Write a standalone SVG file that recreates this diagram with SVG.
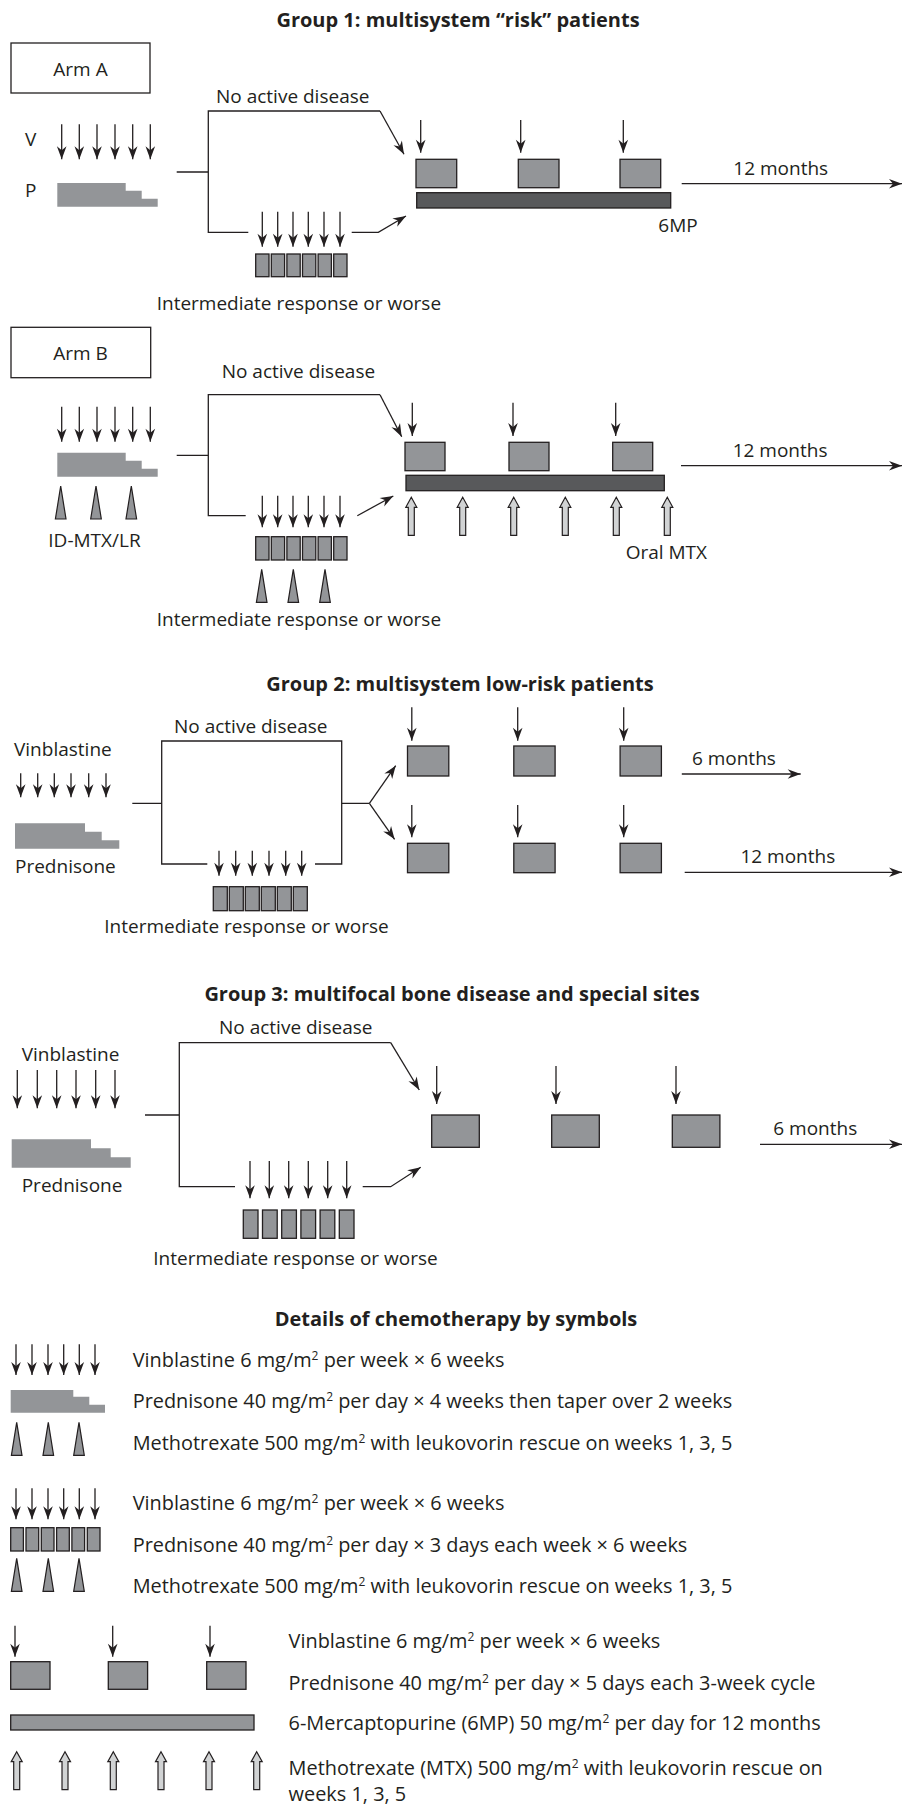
<svg xmlns="http://www.w3.org/2000/svg" width="903" height="1808" viewBox="0 0 903 1808">
<style>
.t{font-family:"Open Sans","Liberation Sans",sans-serif;font-size:19px;fill:#231f20}
.lg{font-size:19.9px}
.b{font-weight:bold;font-size:20px}
.m{text-anchor:middle}
.ln{stroke:#231f20;stroke-width:1.3;fill:none}
.ar{stroke:#231f20;stroke-width:1.3;fill:none;marker-end:url(#ah)}
.bx{fill:#939598;stroke:#231f20;stroke-width:1.3}
.dk{fill:#58595b;stroke:#231f20;stroke-width:1.3}
.st{fill:#939598}
.tri{fill:#939598;stroke:#231f20;stroke-width:1.2}
.ho{fill:#d1d3d4;stroke:#231f20;stroke-width:1.2}
.arm{fill:#fff;stroke:#231f20;stroke-width:1.3}
</style>
<defs>
<marker id="ah" viewBox="-14 -6 15 12" refX="0" refY="0" markerWidth="15" markerHeight="12" markerUnits="userSpaceOnUse" orient="auto"><path d="M0,0 L-13,-4.8 L-9,0 L-13,4.8 Z" fill="#231f20"/></marker>
<path id="ha" d="M0,0 L5.5,10 L3,10 L3,38 L-3,38 L-3,10 L-5.5,10 Z"/>
<path id="tr" d="M0,0 L5.3,33 L-5.3,33 Z"/>
</defs>
<rect width="903" height="1808" fill="#fff"/>

<!-- Group 1 Arm A -->
<g id="title1"><text class="t b m" x="458" y="27">Group 1: multisystem “risk” patients</text></g>
<g id="armA-label"><rect class="arm" x="11" y="43" width="139" height="50"/><text class="t m" x="80.5" y="76">Arm A</text></g>
<g id="armA-induction">
<text class="t" x="25" y="146">V</text>
<path class="ar" d="M61.7,124.3V159.3"/><path class="ar" d="M79.3,124.3V159.3"/><path class="ar" d="M97,124.3V159.3"/><path class="ar" d="M115,124.3V159.3"/><path class="ar" d="M132.7,124.3V159.3"/><path class="ar" d="M150.3,124.3V159.3"/>
<text class="t" x="25" y="197">P</text>
<path class="st" d="M57.3,183H125.7V190.7H141.7V198.7H157.7V206.7H57.3Z"/>
</g>
<g id="armA-nad"><text class="t" x="216" y="102.7">No active disease</text></g>
<g id="armA-ir">
<path class="ar" d="M262.3,211.7V246.7"/><path class="ar" d="M277.7,211.7V246.7"/><path class="ar" d="M293,211.7V246.7"/><path class="ar" d="M308.3,211.7V246.7"/><path class="ar" d="M324,211.7V246.7"/><path class="ar" d="M340,211.7V246.7"/>
<rect class="bx" x="255.7" y="254" width="13.3" height="22.7"/><rect class="bx" x="271.3" y="254" width="13.3" height="22.7"/><rect class="bx" x="286.9" y="254" width="13.3" height="22.7"/><rect class="bx" x="302.5" y="254" width="13.3" height="22.7"/><rect class="bx" x="318.1" y="254" width="13.3" height="22.7"/><rect class="bx" x="333.7" y="254" width="13.3" height="22.7"/>
<text class="t" x="156.7" y="310">Intermediate response or worse</text>
</g>
<g id="armA-continuation">
<path class="ar" d="M420.7,120V152.7"/><path class="ar" d="M520.7,120V152.7"/><path class="ar" d="M623.3,120V152.7"/>
<rect class="bx" x="416" y="159.3" width="40.7" height="28.4"/><rect class="bx" x="518.3" y="159.3" width="40.7" height="28.4"/><rect class="bx" x="620" y="159.3" width="40.7" height="28.4"/>
<rect class="dk" x="416.7" y="192.7" width="254" height="15.3"/>
<text class="t" x="658.3" y="231.7">6MP</text>
<text class="t" x="733.3" y="175">12 months</text>
</g>

<!-- Arm B -->
<g id="armB-label"><rect class="arm" x="11" y="327.3" width="139.7" height="50.4"/><text class="t m" x="80.5" y="360">Arm B</text></g>
<g id="armB-induction">
<path class="ar" d="M61.7,406.7V441.7"/><path class="ar" d="M79.3,406.7V441.7"/><path class="ar" d="M97,406.7V441.7"/><path class="ar" d="M115,406.7V441.7"/><path class="ar" d="M132.7,406.7V441.7"/><path class="ar" d="M150.3,406.7V441.7"/>
<path class="st" d="M57.3,452.7H125.7V460.7H141.7V468.7H157.7V476.7H57.3Z"/>
<use href="#tr" class="tri" x="60.7" y="486"/><use href="#tr" class="tri" x="96" y="486"/><use href="#tr" class="tri" x="131.3" y="486"/>
<text class="t" x="48.3" y="547.3">ID-MTX/LR</text>
</g>
<g id="armB-nad"><text class="t" x="221.7" y="378.3">No active disease</text></g>
<g id="armB-ir">
<path class="ar" d="M262.3,495.7V527.3"/><path class="ar" d="M277.7,495.7V527.3"/><path class="ar" d="M293,495.7V527.3"/><path class="ar" d="M308.3,495.7V527.3"/><path class="ar" d="M324,495.7V527.3"/><path class="ar" d="M340,495.7V527.3"/>
<rect class="bx" x="255.7" y="536.7" width="13.3" height="23.3"/><rect class="bx" x="271.3" y="536.7" width="13.3" height="23.3"/><rect class="bx" x="286.9" y="536.7" width="13.3" height="23.3"/><rect class="bx" x="302.5" y="536.7" width="13.3" height="23.3"/><rect class="bx" x="318.1" y="536.7" width="13.3" height="23.3"/><rect class="bx" x="333.7" y="536.7" width="13.3" height="23.3"/>
<use href="#tr" class="tri" x="261.7" y="569.3"/><use href="#tr" class="tri" x="293.3" y="569.3"/><use href="#tr" class="tri" x="325" y="569.3"/>
<text class="t" x="156.7" y="626">Intermediate response or worse</text>
</g>
<g id="armB-continuation">
<path class="ar" d="M412.3,402.7V436"/><path class="ar" d="M513,402.7V436"/><path class="ar" d="M615.7,402.7V436"/>
<rect class="bx" x="405" y="442.3" width="40" height="28.4"/><rect class="bx" x="509" y="442.3" width="40" height="28.4"/><rect class="bx" x="612.7" y="442.3" width="40" height="28.4"/>
<rect class="dk" x="406" y="475.3" width="258.3" height="15.4"/>
<use href="#ha" class="ho" x="411.3" y="497.3"/><use href="#ha" class="ho" x="462.7" y="497.3"/><use href="#ha" class="ho" x="513.7" y="497.3"/><use href="#ha" class="ho" x="565.3" y="497.3"/><use href="#ha" class="ho" x="616.3" y="497.3"/><use href="#ha" class="ho" x="667.3" y="497.3"/>
<text class="t" x="625.7" y="559.3">Oral MTX</text>
<text class="t" x="732.7" y="456.7">12 months</text>
</g>

<!-- Group 2 -->
<g id="title2"><text class="t b m" x="460" y="690.7">Group 2: multisystem low-risk patients</text></g>
<g id="g2-induction">
<text class="t" x="14" y="755.7">Vinblastine</text>
<path class="ar" d="M20.7,773.3V797.3"/><path class="ar" d="M37.7,773.3V797.3"/><path class="ar" d="M54.3,773.3V797.3"/><path class="ar" d="M71,773.3V797.3"/><path class="ar" d="M88.7,773.3V797.3"/><path class="ar" d="M106,773.3V797.3"/>
<path class="st" d="M15,823.3H85V831.7H101.7V840.3H119.3V848.7H15Z"/>
<text class="t" x="15" y="872.7">Prednisone</text>
</g>
<g id="g2-nad"><text class="t" x="174" y="733.3">No active disease</text></g>
<g id="g2-ir">
<path class="ar" d="M219,850.7V875.7"/><path class="ar" d="M235.7,850.7V875.7"/><path class="ar" d="M252.3,850.7V875.7"/><path class="ar" d="M269,850.7V875.7"/><path class="ar" d="M285.7,850.7V875.7"/><path class="ar" d="M301.7,850.7V875.7"/>
<rect class="bx" x="213.3" y="886.7" width="14" height="24"/><rect class="bx" x="229.3" y="886.7" width="14" height="24"/><rect class="bx" x="245.3" y="886.7" width="14" height="24"/><rect class="bx" x="261.3" y="886.7" width="14" height="24"/><rect class="bx" x="277.3" y="886.7" width="14" height="24"/><rect class="bx" x="293.3" y="886.7" width="14" height="24"/>
<text class="t" x="104.3" y="932.7">Intermediate response or worse</text>
</g>
<g id="g2-6months">
<path class="ar" d="M411.8,707.3V740.7"/><path class="ar" d="M517.7,707.3V740.7"/><path class="ar" d="M623.7,707.3V740.7"/>
<rect class="bx" x="407.5" y="746" width="41.3" height="30"/><rect class="bx" x="513.8" y="746" width="41.3" height="30"/><rect class="bx" x="620.1" y="746" width="41.3" height="30"/>
<text class="t" x="691.9" y="765">6 months</text>
</g>
<g id="g2-12months">
<path class="ar" d="M411.8,805V837.3"/><path class="ar" d="M517.7,805V837.3"/><path class="ar" d="M623.7,805V837.3"/>
<rect class="bx" x="407.5" y="843.3" width="41.3" height="29.4"/><rect class="bx" x="513.8" y="843.3" width="41.3" height="29.4"/><rect class="bx" x="620.1" y="843.3" width="41.3" height="29.4"/>
<text class="t" x="740.4" y="863.3">12 months</text>
</g>

<!-- Group 3 -->
<g id="title3"><text class="t b m" x="452" y="1000.7">Group 3: multifocal bone disease and special sites</text></g>
<g id="g3-induction">
<text class="t" x="21.7" y="1061">Vinblastine</text>
<path class="ar" d="M17.3,1070V1108.3"/><path class="ar" d="M37.3,1070V1108.3"/><path class="ar" d="M56.7,1070V1108.3"/><path class="ar" d="M76,1070V1108.3"/><path class="ar" d="M95.7,1070V1108.3"/><path class="ar" d="M115,1070V1108.3"/>
<path class="st" d="M11.7,1139.3H91V1148.3H110.7V1157.3H130.7V1167.7H11.7Z"/>
<text class="t" x="21.7" y="1192.3">Prednisone</text>
</g>
<g id="g3-nad"><text class="t" x="219" y="1034">No active disease</text></g>
<g id="g3-ir">
<path class="ar" d="M250,1161V1198.3"/><path class="ar" d="M269.3,1161V1198.3"/><path class="ar" d="M288.7,1161V1198.3"/><path class="ar" d="M308.3,1161V1198.3"/><path class="ar" d="M327.7,1161V1198.3"/><path class="ar" d="M346.7,1161V1198.3"/>
<rect class="bx" x="243.3" y="1210" width="14.7" height="28.3"/><rect class="bx" x="262.5" y="1210" width="14.7" height="28.3"/><rect class="bx" x="281.7" y="1210" width="14.7" height="28.3"/><rect class="bx" x="300.9" y="1210" width="14.7" height="28.3"/><rect class="bx" x="320.1" y="1210" width="14.7" height="28.3"/><rect class="bx" x="339.3" y="1210" width="14.7" height="28.3"/>
<text class="t" x="153.3" y="1265">Intermediate response or worse</text>
</g>
<g id="g3-continuation">
<path class="ar" d="M436.7,1066V1104"/><path class="ar" d="M556,1066V1104"/><path class="ar" d="M676,1066V1104"/>
<rect class="bx" x="431.7" y="1115" width="47.6" height="32.3"/><rect class="bx" x="551.7" y="1115" width="47.6" height="32.3"/><rect class="bx" x="672.3" y="1115" width="47.6" height="32.3"/>
<text class="t" x="773.3" y="1135">6 months</text>
</g>

<!-- Legend -->
<g id="title4"><text class="t b m" x="456" y="1326">Details of chemotherapy by symbols</text></g>
<g id="legend-1">
<path class="ar" d="M16,1344.3V1375"/><path class="ar" d="M32,1344.3V1375"/><path class="ar" d="M48,1344.3V1375"/><path class="ar" d="M63.7,1344.3V1375"/><path class="ar" d="M79.3,1344.3V1375"/><path class="ar" d="M95,1344.3V1375"/>
<text class="t lg" x="132.7" y="1366.7">Vinblastine 6 mg/m<tspan font-size="12" dy="-7">2</tspan><tspan dy="7"> per week × 6 weeks</tspan></text>
<path class="st" d="M10.7,1390H73.3V1396.7H89.3V1404.7H105V1412.7H10.7Z"/>
<text class="t lg" x="132.7" y="1408.3">Prednisone 40 mg/m<tspan font-size="12" dy="-7">2</tspan><tspan dy="7"> per day × 4 weeks then taper over 2 weeks</tspan></text>
<use href="#tr" class="tri" x="16.7" y="1422.3"/><use href="#tr" class="tri" x="48.3" y="1422.3"/><use href="#tr" class="tri" x="79" y="1422.3"/>
<text class="t lg" x="132.7" y="1450">Methotrexate 500 mg/m<tspan font-size="12" dy="-7">2</tspan><tspan dy="7"> with leukovorin rescue on weeks 1, 3, 5</tspan></text>
</g>
<g id="legend-2">
<path class="ar" d="M16,1488.3V1519.3"/><path class="ar" d="M32,1488.3V1519.3"/><path class="ar" d="M48,1488.3V1519.3"/><path class="ar" d="M63.7,1488.3V1519.3"/><path class="ar" d="M79.3,1488.3V1519.3"/><path class="ar" d="M95,1488.3V1519.3"/>
<text class="t lg" x="132.7" y="1510">Vinblastine 6 mg/m<tspan font-size="12" dy="-7">2</tspan><tspan dy="7"> per week × 6 weeks</tspan></text>
<rect class="bx" x="10.7" y="1527.7" width="12.7" height="23.3"/><rect class="bx" x="26" y="1527.7" width="12.7" height="23.3"/><rect class="bx" x="41.3" y="1527.7" width="12.7" height="23.3"/><rect class="bx" x="56.6" y="1527.7" width="12.7" height="23.3"/><rect class="bx" x="71.9" y="1527.7" width="12.7" height="23.3"/><rect class="bx" x="87.3" y="1527.7" width="12.7" height="23.3"/>
<text class="t lg" x="132.7" y="1551.7">Prednisone 40 mg/m<tspan font-size="12" dy="-7">2</tspan><tspan dy="7"> per day × 3 days each week × 6 weeks</tspan></text>
<use href="#tr" class="tri" x="16.7" y="1558.3"/><use href="#tr" class="tri" x="48.3" y="1558.3"/><use href="#tr" class="tri" x="79" y="1558.3"/>
<text class="t lg" x="132.7" y="1592.7">Methotrexate 500 mg/m<tspan font-size="12" dy="-7">2</tspan><tspan dy="7"> with leukovorin rescue on weeks 1, 3, 5</tspan></text>
</g>
<g id="legend-3">
<path class="ar" d="M15,1625.7V1656.7"/><path class="ar" d="M112.7,1625.7V1656.7"/><path class="ar" d="M210,1625.7V1656.7"/>
<text class="t lg" x="288.6" y="1648.3">Vinblastine 6 mg/m<tspan font-size="12" dy="-7">2</tspan><tspan dy="7"> per week × 6 weeks</tspan></text>
<rect class="bx" x="10.7" y="1661.7" width="39.3" height="27.6"/><rect class="bx" x="108.3" y="1661.7" width="39.3" height="27.6"/><rect class="bx" x="206.7" y="1661.7" width="39.3" height="27.6"/>
<text class="t lg" x="288.6" y="1690">Prednisone 40 mg/m<tspan font-size="12" dy="-7">2</tspan><tspan dy="7"> per day × 5 days each 3-week cycle</tspan></text>
<rect class="bx" x="10.7" y="1715" width="243.3" height="15"/>
<text class="t lg" x="288.6" y="1730">6-Mercaptopurine (6MP) 50 mg/m<tspan font-size="12" dy="-7">2</tspan><tspan dy="7"> per day for 12 months</tspan></text>
<use href="#ha" class="ho" x="16.7" y="1751.7"/><use href="#ha" class="ho" x="65" y="1751.7"/><use href="#ha" class="ho" x="113.3" y="1751.7"/><use href="#ha" class="ho" x="161" y="1751.7"/><use href="#ha" class="ho" x="209" y="1751.7"/><use href="#ha" class="ho" x="256.7" y="1751.7"/>
<text class="t lg" x="288.6" y="1775">Methotrexate (MTX) 500 mg/m<tspan font-size="12" dy="-7">2</tspan><tspan dy="7"> with leukovorin rescue on</tspan></text>
<text class="t lg" x="288.6" y="1800.7">weeks 1, 3, 5</text>
</g>

<g id="connectors">
<path class="ln" d="M176.7,172H208.3M248.3,232.3H208.3V111H380"/>
<path class="ar" d="M380,111L404,154.3"/>
<path class="ar" d="M351.7,232.3H378.3L406,216"/>
<path class="ar" d="M681.7,183.7H902"/>
<path class="ln" d="M176.7,455.3H208.3M245.7,515.7H208.3V394.7H380"/>
<path class="ar" d="M380,394.7L401.7,436.7"/>
<path class="ar" d="M357.3,515.7L393.3,496"/>
<path class="ar" d="M681,465.7H902"/>
<path class="ln" d="M132.3,803.3H161.7M207.3,864H161.7V741H341.7V864H315M341.7,803.3H369.4"/>
<path class="ar" d="M369.4,803.3L395.7,765.7"/>
<path class="ar" d="M369.4,803.3L394.6,839.3"/>
<path class="ar" d="M681.8,774H800.7"/>
<path class="ar" d="M684.7,872.3H902"/>
<path class="ln" d="M145,1115H179.3M235,1186.7H179.3V1042.7H390.7"/>
<path class="ar" d="M390.7,1042.7L419.3,1090"/>
<path class="ar" d="M362.7,1186.7H390.7L420.7,1167.3"/>
<path class="ar" d="M760,1144.3H902"/>
</g>
</svg>
